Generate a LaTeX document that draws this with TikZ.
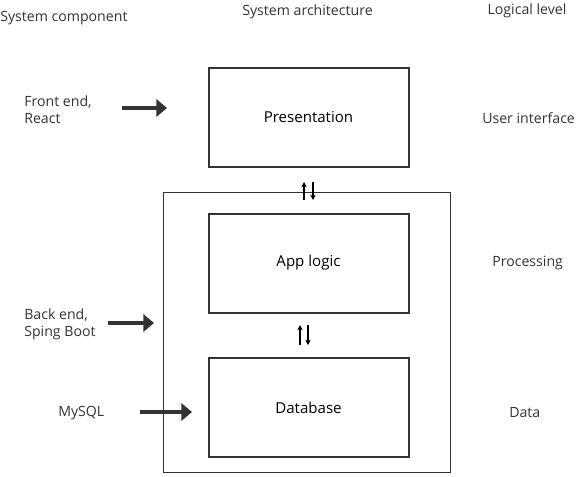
\documentclass[tikz,border=0pt]{standalone}
\usepackage{fontspec}
\setmainfont{Open Sans}
\usetikzlibrary{arrows.meta}
\definecolor{dk}{HTML}{333333}
\begin{document}
\begin{tikzpicture}[x=0.75pt,y=-0.75pt,
  font=\fontsize{10.6}{12.6}\selectfont,
  layerbox/.style={draw=dk,line width=1.5pt,minimum width=200*0.75pt,minimum height=99*0.75pt,inner sep=0pt,font=\fontsize{11.3}{13}\selectfont},
  fatarrow/.style={draw=dk,line width=3.5pt,-{Triangle[length=8pt,width=13pt]}},
  swap/.style={line width=0.9pt,-{Stealth[length=4pt,width=4pt]}},
  lbl/.style={anchor=west,align=left,inner sep=0pt,text=dk},
  ctr/.style={inner sep=0pt,text=dk}]
\useasboundingbox (0,0) rectangle (580,476);
% outer box
\draw[line width=0.7pt,draw=black!80] (163,192) rectangle (450,472);
% layer boxes
\node[layerbox] (pres) at (308.5,117.5) {Presentation};
\node[layerbox] (app) at (308.5,263) {App logic};
\node[layerbox] (db) at (308.5,407.5) {Database};
% headers
\node[lbl] (h1) at (0,18) {System component};
\node[ctr] (h2) at (307.5,12) {System architecture};
\node[ctr] (h3) at (527,11) {Logical level};
% left labels
\node[lbl] (fe) at (24,110) {Front end,\\React};
\node[lbl] (be) at (24,324) {Back end,\\Sping Boot};
\node[lbl] (my) at (58,413) {MySQL};
% right labels
\node[lbl] (ui) at (482,118) {User interface};
\node[lbl] (pr) at (492,263) {Processing};
\node[lbl] (da) at (509,413) {Data};
% fat arrows
\coordinate (a1s) at (122,108); \coordinate (a1e) at (167,108);
\coordinate (a2s) at (108,323); \coordinate (a2e) at (154,323);
\coordinate (a3s) at (140,412); \coordinate (a3e) at (192,412);
\draw[fatarrow] (a1s) -- (a1e);
\draw[fatarrow] (a2s) -- (a2e);
\draw[fatarrow] (a3s) -- (a3e);
% swap arrows
\coordinate (u1s) at (304,200); \coordinate (u1e) at (304,182);
\coordinate (d1s) at (313,182); \coordinate (d1e) at (313,200);
\coordinate (u2s) at (300,345); \coordinate (u2e) at (300,325);
\coordinate (d2s) at (308,325); \coordinate (d2e) at (308,345);
\draw[swap] (u1s) -- (u1e);
\draw[swap] (d1s) -- (d1e);
\draw[swap] (u2s) -- (u2e);
\draw[swap] (d2s) -- (d2e);
\end{tikzpicture}
\end{document}
